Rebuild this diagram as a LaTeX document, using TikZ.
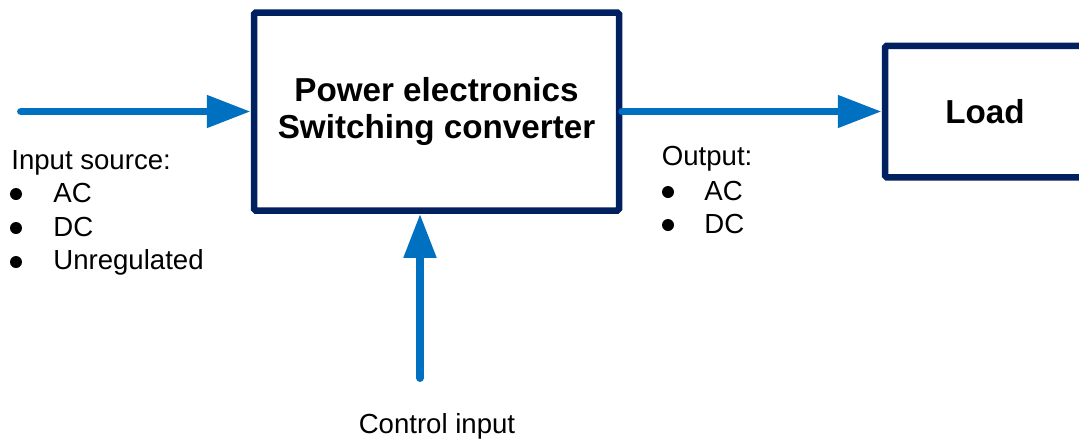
\documentclass[tikz,border=0pt]{standalone}
\usepackage{fontspec}
\setmainfont{Liberation Sans}
\usepackage{xcolor}
\usetikzlibrary{arrows.meta}
\definecolor{flowblue}{HTML}{0070C0}
\definecolor{boxnavy}{HTML}{002060}

\begin{document}
\begin{tikzpicture}[>={Triangle[length=8.8mm,width=6.2mm]},
  blk/.style={draw=boxnavy,line width=3.7pt,rounded corners=1pt,align=center,font=\fontsize{18.9}{21}\selectfont\bfseries},
  flow/.style={->,draw=flowblue,fill=flowblue,line width=4.5pt,line cap=round},
  lbl/.style={font=\fontsize{15.7}{18}\selectfont,inner sep=0pt},
  dot/.style={circle,fill=black,inner sep=0pt,minimum size=2.4mm}]
  \useasboundingbox (0,0) rectangle (21.58,-8.82);
  \node[blk,minimum width=7.3cm,minimum height=3.96cm] (conv) at (8.73,-2.23) {Power electronics\\Switching converter};
  \node[blk,minimum width=4cm,minimum height=2.63cm] (load) at (19.7,-2.23) {Load};
  \coordinate (src) at (0.42,-2.23);
  \coordinate (ctl) at (8.4,-7.56);
  \draw[flow] (src) -- (conv.west);
  \draw[flow] (conv.east) -- (load.west);
  \draw[flow] (ctl) -- (ctl |- conv.south);
  \node[lbl,anchor=base west] (inhd) at (0.22,-3.38) {Input source:};
  \node[dot] (inb1) at (0.32,-3.88) {};
  \node[dot] (inb2) at (0.32,-4.56) {};
  \node[dot] (inb3) at (0.32,-5.24) {};
  \node[lbl,anchor=base west] (inac) at (1.06,-4.04) {AC};
  \node[lbl,anchor=base west] (indc) at (1.06,-4.72) {DC};
  \node[lbl,anchor=base west] (inun) at (1.06,-5.38) {Unregulated};
  \node[lbl,anchor=base west] (outhd) at (13.23,-3.30) {Output:};
  \node[dot] (outb1) at (13.36,-3.84) {};
  \node[dot] (outb2) at (13.36,-4.50) {};
  \node[lbl,anchor=base west] (outac) at (14.08,-4.00) {AC};
  \node[lbl,anchor=base west] (outdc) at (14.08,-4.66) {DC};
  \node[lbl,anchor=base] (ctlin) at (8.74,-8.66) {Control input};
\end{tikzpicture}
\end{document}
